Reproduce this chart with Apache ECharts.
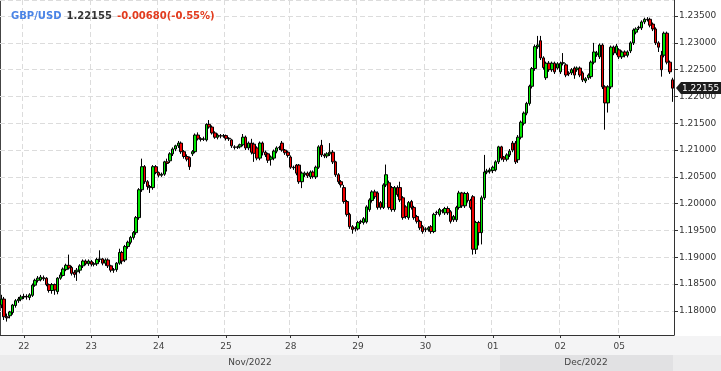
<!DOCTYPE html>
<html><head><meta charset="utf-8">
<script src="https://cdn.jsdelivr.net/npm/echarts@6/dist/echarts.min.js"></script>
<style>html,body{margin:0;padding:0;background:#fff}#c{width:721px;height:371px}</style>
</head><body><div id="c"></div>
<script>
const symbolName = 'GBP/USD';
const lastPriceText = '1.22155';
const changeText = '-0.00680(-0.55%)';
const dayNames = ['21','22','23','24','25','28','29','30','01','02','05'];
const candlesPerDay = [8,24,24,24,23,24,24,24,24,21,20];
const monthNames = ['Nov/2022','Dec/2022'];

const opens = [
1.1811,1.1822,1.1789,1.1791,1.1797,1.1810,1.1819,1.1822,1.1826,1.1827,
1.1825,1.1829,1.1848,1.1857,1.1858,1.1862,1.1861,1.1849,1.1838,1.1849,
1.1836,1.1861,1.1866,1.1877,1.1885,1.1881,1.1872,1.1873,1.1876,1.1884,
1.1893,1.1888,1.1892,1.1887,1.1888,1.1896,1.1897,1.1889,1.1895,1.1884,
1.1876,1.1877,
1.1889,1.1909,1.1895,1.1920,1.1928,1.1937,1.1946,1.1974,
1.2026,1.2069,1.2041,1.2032,1.2030,1.2069,1.2058,1.2053,1.2055,1.2078,
1.2080,1.2093,1.2102,1.2108,1.2113,1.2097,1.2088,1.2086,1.2093,1.2097,
1.2128,1.2121,1.2120,1.2119,1.2148,1.2143,1.2132,1.2124,1.2127,1.2126,
1.2127,1.2122,
1.2119,1.2106,1.2105,1.2106,1.2110,1.2124,1.2104,1.2113,
1.2111,1.2104,1.2085,1.2113,1.2096,1.2093,1.2083,1.2085,1.2098,1.2104,
1.2113,1.2100,1.2096,1.2087,1.2068,1.2072,1.2072,1.2041,1.2054,1.2057,
1.2050,1.2059,1.2050,1.2068,1.2109,1.2091,1.2089,1.2093,1.2096,1.2078,
1.2054,1.2041,
1.2030,1.2004,1.1980,1.1957,1.1953,1.1953,1.1967,1.1965,
1.1966,1.1989,1.2006,1.2022,1.2020,1.2002,1.1993,1.2035,1.2039,1.2030,
1.1989,1.2030,1.2030,1.2011,1.1994,1.1974,1.2004,1.1993,1.1976,1.1967,
1.1957,1.1952,1.1952,1.1957,1.1948,1.1983,1.1980,1.1987,1.1983,1.1991,
1.1985,1.1970,1.1970,
1.1993,1.2020,1.1996,1.2019,1.2006,1.2013,1.1915,
1.1965,1.1946,1.2011,1.2059,1.2061,1.2062,1.2063,1.2078,1.2106,1.2087,
1.2083,1.2091,1.2113,1.2113,1.2082,1.2124,1.2150,1.2169,1.2187,1.2219,
1.2252,1.2293,1.2304,1.2272,1.2235,1.2262,1.2250,1.2262,1.2253,
1.2246,
1.2262,1.2259,1.2244,1.2244,1.2253,1.2250,1.2253,1.2244,1.2229,1.2235,
1.2237,1.2264,1.2278,1.2274,1.2296,1.2218,1.2188,1.2218,1.2292,1.2281,
1.2287,1.2274,1.2283,1.2277,1.2285,1.2300,1.2320,1.2328,1.2328,1.2339,
1.2344,1.2344,1.2335,1.2326,1.2300,1.2277,1.2277,1.2318,1.2264,1.2231
];
const closes = [
1.1822,1.1789,1.1787,1.1798,1.1811,1.1819,1.1822,1.1826,1.1827,1.1826,
1.1830,1.1848,1.1857,1.1861,1.1863,1.1860,1.1849,1.1838,1.1849,1.1839,
1.1861,1.1867,1.1878,1.1885,1.1880,1.1870,1.1868,1.1876,1.1884,1.1893,
1.1888,1.1893,1.1887,1.1888,1.1896,1.1897,1.1889,1.1895,1.1884,1.1876,
1.1877,1.1889,
1.1909,1.1893,1.1920,1.1928,1.1937,1.1946,1.1974,1.2026,
1.2069,1.2041,1.2032,1.2030,1.2069,1.2058,1.2053,1.2055,1.2078,1.2075,
1.2093,1.2102,1.2108,1.2113,1.2097,1.2088,1.2083,1.2069,1.2097,1.2128,
1.2121,1.2120,1.2121,1.2148,1.2143,1.2132,1.2124,1.2128,1.2126,1.2127,
1.2122,1.2121,
1.2108,1.2105,1.2106,1.2110,1.2124,1.2104,1.2113,1.2096,
1.2094,1.2085,1.2113,1.2096,1.2091,1.2081,1.2087,1.2098,1.2104,1.2105,
1.2100,1.2095,1.2090,1.2068,1.2067,1.2057,1.2041,1.2057,1.2057,1.2052,
1.2059,1.2051,1.2068,1.2106,1.2091,1.2089,1.2093,1.2096,1.2078,1.2054,
1.2041,1.2035,
1.2004,1.1980,1.1957,1.1952,1.1955,1.1965,1.1966,1.1972,
1.1994,1.2007,1.2022,1.2013,1.1993,1.1993,1.2035,1.2054,1.1993,1.1989,
1.2030,1.2017,1.2007,1.1974,1.1976,1.2002,1.1993,1.1974,1.1967,1.1955,
1.1948,1.1953,1.1955,1.1948,1.1980,1.1984,1.1989,1.1986,1.1991,1.1983,
1.1967,1.1976,1.1993,
1.2020,1.1996,1.2019,1.2006,1.1993,1.1915,1.1965,
1.1946,1.2011,1.2059,1.2061,1.2063,1.2068,1.2078,1.2106,1.2085,1.2083,
1.2091,1.2098,1.2100,1.2078,1.2124,1.2152,1.2169,1.2187,1.2219,1.2252,
1.2293,1.2296,1.2272,1.2254,1.2262,1.2250,1.2262,1.2246,1.2261,
1.2262,
1.2263,1.2240,1.2242,1.2250,1.2240,1.2253,1.2240,1.2231,1.2233,1.2240,
1.2264,1.2283,1.2281,1.2296,1.2218,1.2188,1.2218,1.2292,1.2281,1.2294,
1.2274,1.2283,1.2277,1.2283,1.2300,1.2324,1.2326,1.2329,1.2339,1.2344,
1.2343,1.2333,1.2326,1.2300,1.2292,1.2250,1.2318,1.2264,1.2246,1.22155
];
const lows = [
1.1805,1.1783,1.1780,1.1786,1.1793,1.1806,1.1815,1.1818,1.1822,1.1821,
1.1820,1.1826,1.1845,1.1853,1.1855,1.1856,1.1846,1.1834,1.1832,1.1830,
1.1831,1.1858,1.1864,1.1874,1.1877,1.1866,1.1862,1.1856,1.1870,1.1880,
1.1885,1.1884,1.1883,1.1883,1.1884,1.1891,1.1885,1.1884,1.1880,1.1872,
1.1871,1.1873,
1.1886,1.1887,1.1891,1.1916,1.1924,1.1933,1.1942,1.1970,
1.2022,1.2037,1.2026,1.2020,1.2026,1.2055,1.2049,1.2050,1.2052,1.2060,
1.2076,1.2089,1.2098,1.2104,1.2093,1.2084,1.2079,1.2063,1.2089,1.2094,
1.2118,1.2116,1.2117,1.2116,1.2140,1.2129,1.2121,1.2120,1.2122,1.2123,
1.2118,1.2117,
1.2104,1.2101,1.2102,1.2103,1.2107,1.2100,1.2100,1.2092,
1.2078,1.2081,1.2081,1.2090,1.2087,1.2076,1.2071,1.2081,1.2094,1.2100,
1.2097,1.2091,1.2086,1.2065,1.2063,1.2053,1.2037,1.2029,1.2050,1.2048,
1.2046,1.2047,1.2046,1.2065,1.2087,1.2085,1.2085,1.2089,1.2074,1.2050,
1.2037,1.2030,
1.2000,1.1976,1.1953,1.1944,1.1948,1.1950,1.1962,1.1961,
1.1963,1.1985,1.2002,1.2009,1.1989,1.1989,1.1990,1.2031,1.1989,1.1985,
1.1985,1.2013,1.2003,1.1970,1.1972,1.1970,1.1989,1.1970,1.1963,1.1951,
1.1944,1.1947,1.1948,1.1944,1.1945,1.1979,1.1976,1.1982,1.1979,1.1979,
1.1963,1.1966,1.1966,
1.1989,1.1992,1.1992,1.2002,1.1989,1.1905,1.1906,
1.1922,1.1924,1.2007,1.2055,1.2056,1.2057,1.2060,1.2074,1.2081,1.2078,
1.2079,1.2087,1.2096,1.2074,1.2076,1.2120,1.2146,1.2165,1.2183,1.2215,
1.2248,1.2289,1.2268,1.2250,1.2231,1.2246,1.2246,1.2242,1.2250,
1.2242,
1.2258,1.2236,1.2238,1.2240,1.2233,1.2246,1.2236,1.2227,1.2225,1.2231,
1.2233,1.2260,1.2274,1.2270,1.2214,1.2138,1.2170,1.2214,1.2277,1.2277,
1.2270,1.2270,1.2273,1.2273,1.2281,1.2296,1.2316,1.2324,1.2324,1.2335,
1.2340,1.2329,1.2322,1.2296,1.2283,1.2237,1.2273,1.2260,1.2242,1.2190
];
const highs = [
1.1830,1.1826,1.1795,1.1800,1.1813,1.1822,1.1826,1.1830,1.1832,1.1831,
1.1833,1.1851,1.1860,1.1865,1.1867,1.1866,1.1863,1.1851,1.1852,1.1851,
1.1863,1.1872,1.1881,1.1888,1.1905,1.1884,1.1876,1.1880,1.1887,1.1896,
1.1896,1.1896,1.1895,1.1891,1.1899,1.1913,1.1899,1.1898,1.1898,1.1886,
1.1880,1.1891,
1.1916,1.1912,1.1923,1.1931,1.1940,1.1949,1.1977,1.2029,
1.2084,1.2072,1.2044,1.2035,1.2072,1.2072,1.2060,1.2058,1.2080,1.2084,
1.2096,1.2105,1.2110,1.2117,1.2116,1.2100,1.2092,1.2088,1.2100,1.2131,
1.2133,1.2124,1.2125,1.2150,1.2156,1.2146,1.2135,1.2131,1.2130,1.2130,
1.2129,1.2124,
1.2121,1.2109,1.2108,1.2112,1.2130,1.2127,1.2116,1.2121,
1.2114,1.2107,1.2116,1.2116,1.2099,1.2095,1.2090,1.2101,1.2107,1.2108,
1.2117,1.2102,1.2099,1.2090,1.2071,1.2074,1.2074,1.2060,1.2060,1.2060,
1.2062,1.2062,1.2071,1.2109,1.2119,1.2094,1.2096,1.2113,1.2100,1.2080,
1.2057,1.2044,
1.2035,1.2007,1.1983,1.1960,1.1958,1.1968,1.1970,1.1975,
1.1997,1.2010,1.2025,1.2026,1.2023,1.2005,1.2038,1.2073,1.2043,1.2033,
1.2033,1.2034,1.2041,1.2014,1.1997,1.2005,1.2007,1.1996,1.1979,1.1970,
1.1960,1.1956,1.1958,1.1960,1.1983,1.1987,1.1992,1.1990,1.1994,1.1995,
1.1988,1.1979,1.1996,
1.2024,1.2022,1.2022,1.2022,1.2009,1.2016,1.1968,
1.1968,1.2015,1.2091,1.2065,1.2067,1.2071,1.2081,1.2108,1.2108,1.2089,
1.2094,1.2102,1.2117,1.2117,1.2128,1.2155,1.2172,1.2190,1.2222,1.2255,
1.2297,1.2313,1.2313,1.2275,1.2265,1.2266,1.2265,1.2265,1.2264,
1.2265,
1.2281,1.2262,1.2247,1.2253,1.2256,1.2256,1.2256,1.2247,1.2236,1.2243,
1.2267,1.2300,1.2285,1.2299,1.2299,1.2221,1.2221,1.2295,1.2295,1.2298,
1.2290,1.2286,1.2286,1.2286,1.2303,1.2327,1.2329,1.2332,1.2342,1.2347,
1.2348,1.2347,1.2338,1.2329,1.2303,1.2285,1.2321,1.2321,1.2267,1.2235
];

// categories: one per candle, day label on first candle of each day
const categories = [];
const dayStart = {};
(function(){
  let k = 0;
  dayNames.forEach((d, di) => {
    for (let h = 0; h < candlesPerDay[di]; h++) {
      if (h === 0 && di > 0) dayStart[k] = d;
      categories.push(d + '-' + h);
      k++;
    }
  });
})();
const candleData = opens.map((o, i) => [o, closes[i], lows[i], highs[i]]);
const isDayStart = (idx) => Object.prototype.hasOwnProperty.call(dayStart, idx);

const FONT = 'DejaVu Sans';
const chart = echarts.init(document.getElementById('c'), null, {renderer: 'canvas'});
const baseGraphic = [
  {type: 'rect', z: -10, silent: true, shape: {x: 0, y: 336, width: 721, height: 19}, style: {fill: '#f4f4f5'}},
  {type: 'rect', z: -10, silent: true, shape: {x: 0, y: 355, width: 721, height: 16}, style: {fill: '#ebebec'}},
  {type: 'rect', z: -9, silent: true, shape: {x: 500, y: 355, width: 173, height: 16}, style: {fill: '#e1e1e3'}},
  {type: 'text', silent: true, style: {x: 250, y: 363, text: monthNames[0], fill: '#444', font: '9px "DejaVu Sans"', textAlign: 'center', textVerticalAlign: 'middle'}},
  {type: 'text', silent: true, style: {x: 586, y: 363, text: monthNames[1], fill: '#444', font: '9px "DejaVu Sans"', textAlign: 'center', textVerticalAlign: 'middle'}},
  {type: 'line', silent: true, shape: {x1: 0.5, y1: 0, x2: 0.5, y2: 335}, style: {stroke: '#444', lineWidth: 1}}
];
const option = {
  animation: false,
  backgroundColor: '#ffffff',
  title: {
    left: 6, top: 2,
    text: '{a|' + symbolName + '} {b|' + lastPriceText + '} {c|' + changeText + '}',
    textStyle: {
      rich: {
        a: {color: '#4a84e6', fontFamily: FONT, fontWeight: 'bold', fontSize: 10},
        b: {color: '#333333', fontFamily: FONT, fontWeight: 'bold', fontSize: 10},
        c: {color: '#e23b1e', fontFamily: FONT, fontWeight: 'bold', fontSize: 10}
      }
    }
  },
  grid: {left: 0, right: 47, top: 0, bottom: 36, containLabel: false},
  xAxis: {
    type: 'category',
    data: categories,
    boundaryGap: true,
    axisLine: {lineStyle: {color: '#333', width: 1}},
    axisTick: {show: true, length: 3, alignWithLabel: true, interval: (i) => isDayStart(i), lineStyle: {color: '#333'}},
    axisLabel: {
      interval: (i) => isDayStart(i),
      formatter: (v, i) => dayStart[i] || '',
      color: '#444', fontFamily: FONT, fontSize: 9, margin: 7
    },
    splitLine: {show: true, interval: (i) => isDayStart(i), lineStyle: {color: '#dcdcdc', type: [5, 3], width: 1}}
  },
  yAxis: {
    type: 'value',
    position: 'right',
    scale: true,
    min: 1.1755,
    max: 1.2380,
    splitNumber: 12,
    axisLine: {show: true, lineStyle: {color: '#333', width: 1}},
    axisTick: {show: true, length: 4, lineStyle: {color: '#333'}},
    axisLabel: {
      showMinLabel: false, showMaxLabel: false,
      formatter: (v) => v.toFixed(5),
      color: '#333', fontFamily: FONT, fontSize: 9, margin: 5
    },
    splitLine: {show: true, lineStyle: {color: '#dcdcdc', type: [5, 3], width: 1}}
  },
  series: [{
    type: 'candlestick',
    data: candleData,
    barWidth: 3,
    itemStyle: {
      color: '#00e600', color0: '#ee0000',
      borderColor: '#000', borderColor0: '#000', borderColorDoji: '#000',
      borderWidth: 1
    }
  }],
  graphic: baseGraphic
};
chart.setOption(option);

// current price tag on the right axis, positioned through the y scale
const lastClose = closes[closes.length - 1];
const py = Math.round(chart.convertToPixel({yAxisIndex: 0}, lastClose));
chart.setOption({
  graphic: baseGraphic.concat([
    {type: 'polygon', z: 100, silent: true, shape: {points: [[676, py], [681, py - 6], [721, py - 6], [721, py + 6], [681, py + 6]]}, style: {fill: '#1c1c1c'}},
    {type: 'text', z: 101, silent: true, style: {x: 682, y: py + 0.5, text: lastClose.toFixed(5), fill: '#ffffff', font: '9px "DejaVu Sans"', textVerticalAlign: 'middle'}}
  ])
});
</script>
</body></html>
